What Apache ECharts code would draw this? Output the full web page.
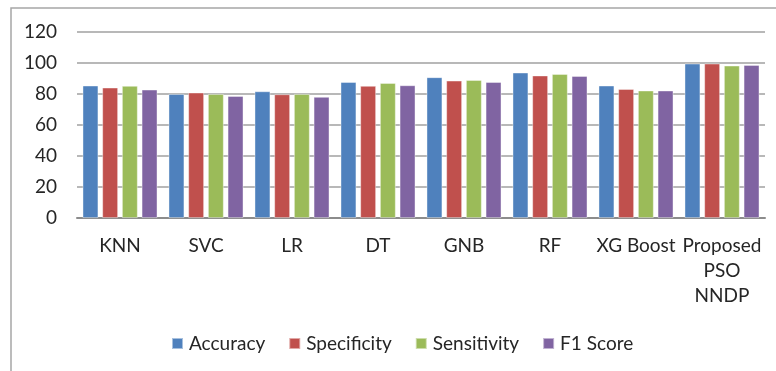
<!DOCTYPE html>
<html>
<head>
<meta charset="utf-8">
<script src="https://cdn.jsdelivr.net/npm/echarts@6/dist/echarts.min.js"></script>
<style>
  html, body { margin: 0; padding: 0; background: #fff; }
  #chart { width: 776px; height: 371px; }
</style>
</head>
<body>
<div id="chart"></div>
<script>
// Model names along the x axis
const categories = ['KNN', 'SVC', 'LR', 'DT', 'GNB', 'RF', 'XG Boost', 'Proposed\nPSO\nNNDP'];

// Metric scores (%) per model
const accuracy    = [85.4, 80.0, 81.7, 87.7, 90.8, 93.8, 85.4, 99.6];
const specificity = [84.1, 80.9, 79.8, 85.2, 88.6, 91.9, 83.2, 99.6];
const sensitivity = [85.2, 80.0, 80.0, 87.1, 89.0, 92.9, 82.2, 98.3];
const f1Score     = [82.8, 78.7, 78.1, 85.6, 87.7, 91.6, 82.2, 98.7];

// Value axis ticks
const yTicks = [0, 20, 40, 60, 80, 100, 120];

const seriesNames = ['Accuracy', 'Specificity', 'Sensitivity', 'F1 Score'];
const seriesData = [accuracy, specificity, sensitivity, f1Score];
const colors = ['#4F81BD', '#C0504D', '#9BBB59', '#8064A2'];

const font = 'Lato, "Open Sans", sans-serif';

const chart = echarts.init(document.getElementById('chart'));
chart.setOption({
  animation: false,
  color: colors,
  textStyle: { fontFamily: font },
  graphic: [{
    type: 'rect',
    shape: { x: 11, y: 8, width: 800, height: 400 },
    style: { fill: 'none', stroke: '#a6a6a6', lineWidth: 1.5 },
    silent: true
  }],
  grid: { left: 77, right: 11, top: 32, bottom: 153 },
  legend: {
    top: 329,
    left: 166,
    icon: 'rect',
    itemWidth: 11,
    itemHeight: 11,
    itemGap: 23,
    textStyle: { fontFamily: font, fontSize: 19, color: '#262626', padding: [0, 0, 0, 1] },
    data: seriesNames
  },
  xAxis: {
    type: 'category',
    data: categories,
    axisTick: { show: false },
    axisLine: { lineStyle: { color: '#8c8c8c', width: 2 } },
    axisLabel: {
      interval: 0,
      margin: 15,
      fontFamily: font,
      fontSize: 19,
      color: '#262626',
      lineHeight: 25
    }
  },
  yAxis: {
    type: 'value',
    min: yTicks[0],
    max: yTicks[yTicks.length - 1],
    interval: yTicks[1] - yTicks[0],
    axisLine: { show: false },
    axisTick: { show: false },
    axisLabel: { fontFamily: font, fontSize: 19, color: '#262626', margin: 20 },
    splitLine: { lineStyle: { color: '#a0a0a0', width: 1.5 } }
  },
  series: seriesNames.map((name, i) => ({
    name,
    type: 'bar',
    data: seriesData[i],
    barGap: '25%',
    barCategoryGap: '13%',
    itemStyle: { borderColor: 'rgba(255,255,255,0.5)', borderWidth: 0.8 }
  }))
});
</script>
</body>
</html>
